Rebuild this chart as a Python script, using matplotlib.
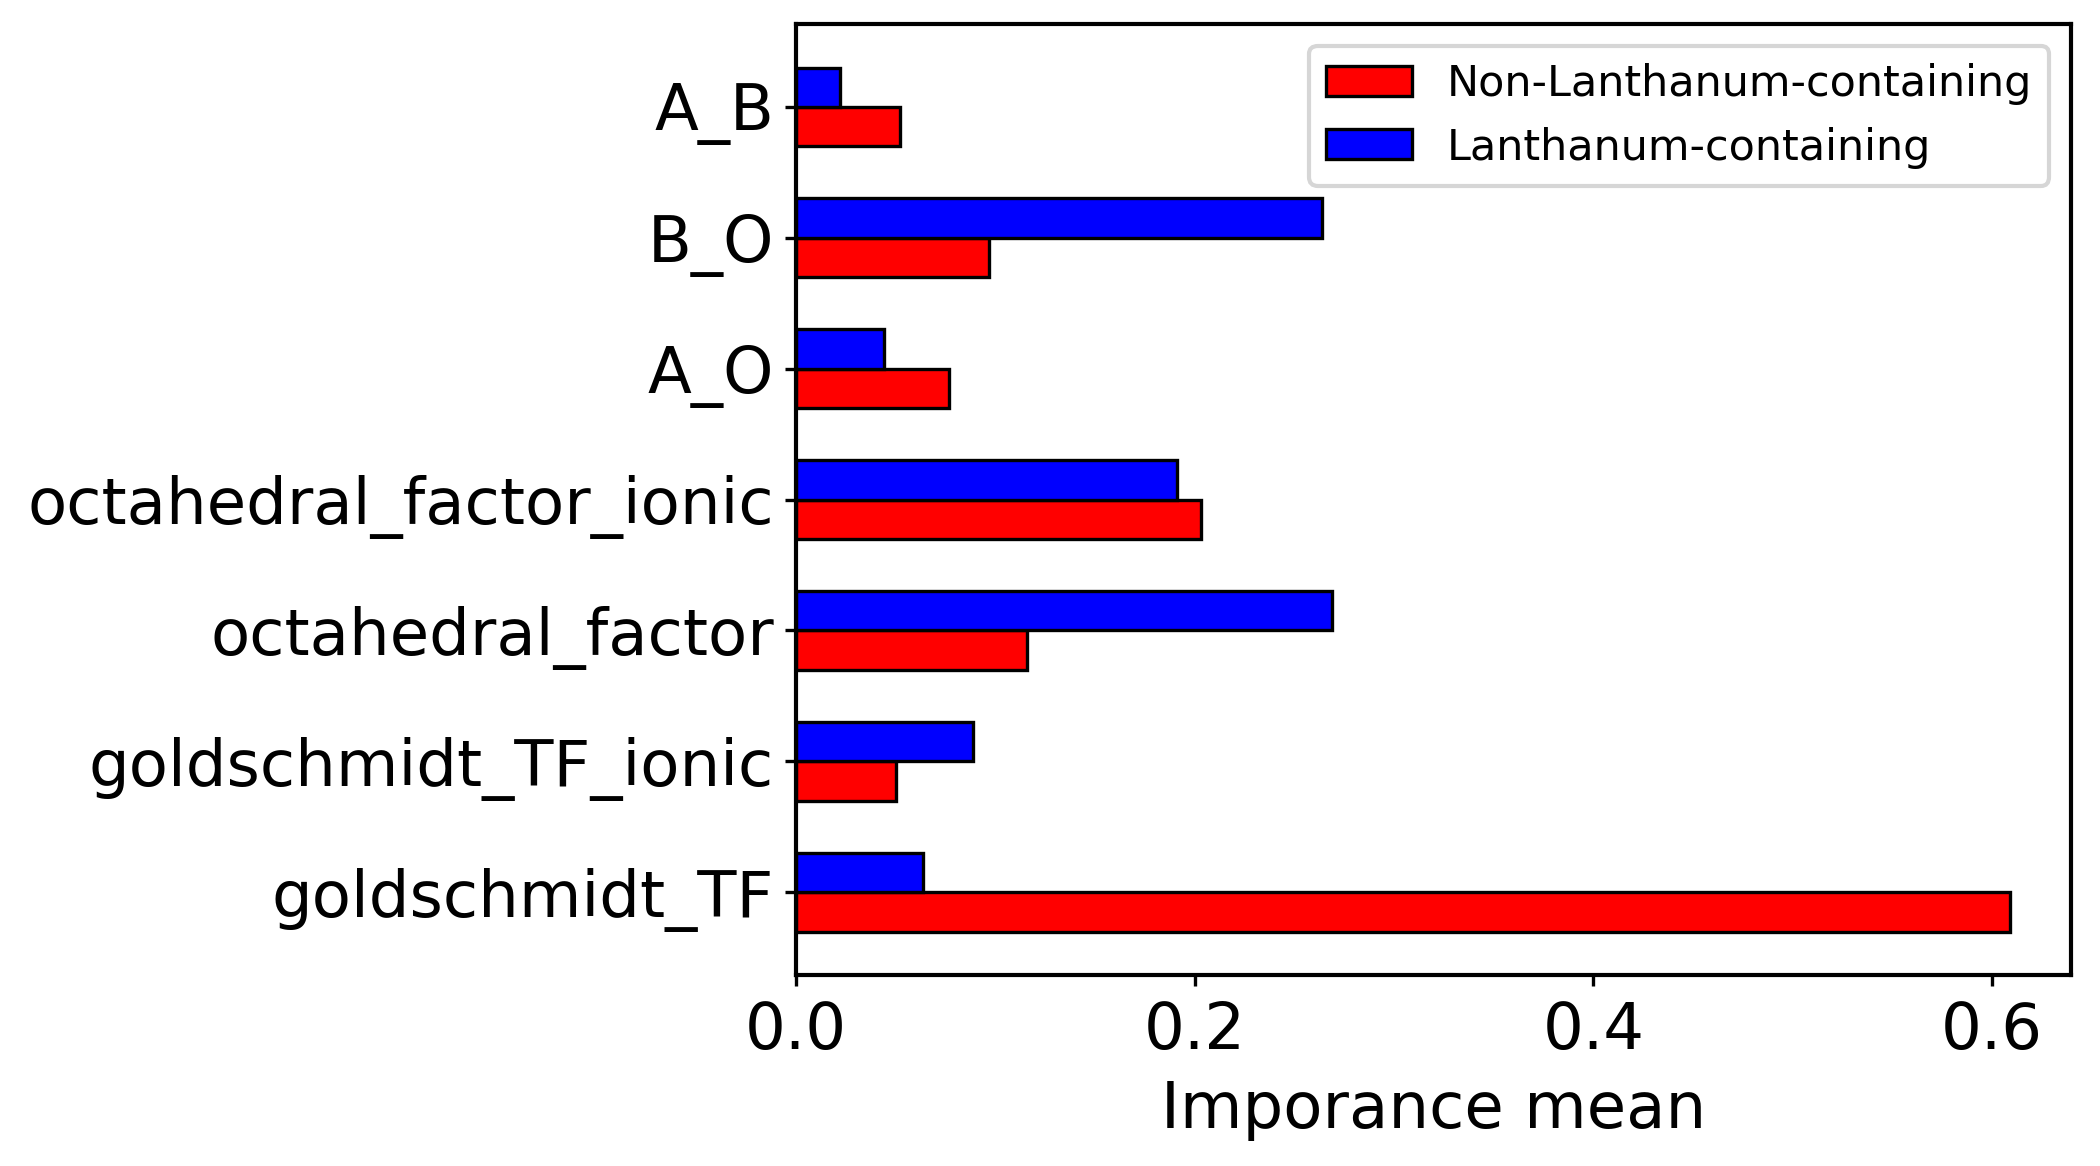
import numpy as np
import matplotlib.pyplot as plt

# feature names, bottom to top
features = ['goldschmidt_TF', 'goldschmidt_TF_ionic', 'octahedral_factor',
            'octahedral_factor_ionic', 'A_O', 'B_O', 'A_B']
non_la = [0.609, 0.050, 0.116, 0.203, 0.077, 0.097, 0.052]
la = [0.064, 0.089, 0.269, 0.191, 0.044, 0.264, 0.022]
xticks = [0.0, 0.2, 0.4, 0.6]


def main():
    fig, ax = plt.subplots(figsize=(7, 3.887), dpi=300)
    fig.subplots_adjust(left=0.379, right=0.986, top=0.979, bottom=0.164)

    y = np.arange(len(features))
    h = 0.3
    ax.barh(y - h / 2, non_la, h, color='red', edgecolor='black',
            linewidth=0.8, label='Non-Lanthanum-containing')
    ax.barh(y + h / 2, la, h, color='blue', edgecolor='black',
            linewidth=0.8, label='Lanthanum-containing')

    ax.set_yticks(y)
    ax.set_yticklabels(features)
    ax.set_xticks(xticks)
    ax.tick_params(labelsize=15.4, length=2.6)
    ax.tick_params(axis='y', pad=2.6)
    ax.set_xlabel('Imporance mean', fontsize=15.4)
    for s in ax.spines.values():
        s.set_linewidth(1.0)

    ax.legend(loc='upper right', fontsize=10.3)

    fig.savefig('out.png', dpi=300)


if __name__ == "__main__":
    main()
